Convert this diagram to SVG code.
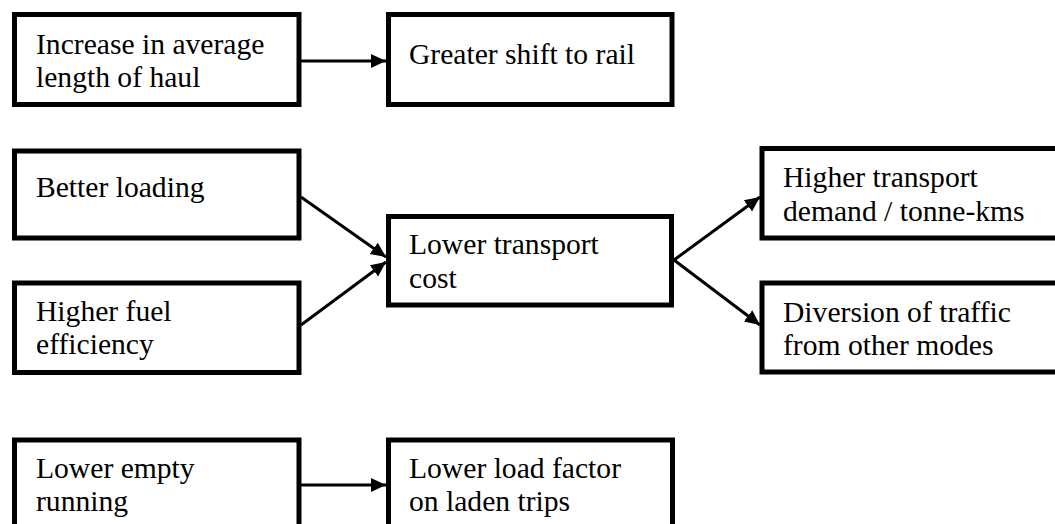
<svg xmlns="http://www.w3.org/2000/svg" width="1055" height="524" viewBox="0 0 1055 524">
<style>
.box{fill:#fff;stroke:#000;stroke-width:5}
.lbl{font-family:'Liberation Serif','Times New Roman',serif;font-size:29.6px;fill:#000}
.con{stroke:#000;stroke-width:3;fill:none}
</style>
<defs>
<marker id="ah" markerUnits="userSpaceOnUse" markerWidth="16" markerHeight="16" refX="15" refY="8" orient="auto">
<path d="M0,1 L15,8 L0,15 z" fill="#000"/>
</marker>
</defs>
<rect width="1055" height="524" fill="#fff"/>
<g id="connectors">
<line class="con" x1="301" y1="61" x2="386" y2="61" marker-end="url(#ah)"/>
<line class="con" x1="301" y1="197" x2="386" y2="257" marker-end="url(#ah)"/>
<line class="con" x1="301" y1="325" x2="386" y2="262" marker-end="url(#ah)"/>
<line class="con" x1="674" y1="260" x2="760" y2="197" marker-end="url(#ah)"/>
<line class="con" x1="674" y1="260" x2="760" y2="325" marker-end="url(#ah)"/>
<line class="con" x1="301" y1="485" x2="386" y2="485" marker-end="url(#ah)"/>
</g>
<g id="n1">
<rect class="box" x="14.5" y="14.5" width="284.5" height="90"/>
<text class="lbl" x="36" y="54">Increase in average</text>
<text class="lbl" x="36" y="87">length of haul</text>
</g>
<g id="n2">
<rect class="box" x="388.5" y="14.5" width="283.5" height="90"/>
<text class="lbl" x="409" y="64">Greater shift to rail</text>
</g>
<g id="n3">
<rect class="box" x="14.5" y="151" width="284.5" height="87"/>
<text class="lbl" x="36" y="197">Better loading</text>
</g>
<g id="n4">
<rect class="box" x="14.5" y="283" width="284.5" height="89.5"/>
<text class="lbl" x="36" y="321">Higher fuel</text>
<text class="lbl" x="36" y="354">efficiency</text>
</g>
<g id="n5">
<rect class="box" x="388.5" y="216.5" width="283" height="88.5"/>
<text class="lbl" x="409" y="254">Lower transport</text>
<text class="lbl" x="409" y="288">cost</text>
</g>
<g id="n6">
<rect class="box" x="762" y="148.5" width="300" height="89.5"/>
<text class="lbl" x="783" y="187">Higher transport</text>
<text class="lbl" x="783" y="221">demand / tonne-kms</text>
</g>
<g id="n7">
<rect class="box" x="762" y="283" width="300" height="89"/>
<text class="lbl" x="783" y="322">Diversion of traffic</text>
<text class="lbl" x="783" y="355">from other modes</text>
</g>
<g id="n8">
<rect class="box" x="14.5" y="440" width="284.5" height="90"/>
<text class="lbl" x="36" y="478">Lower empty</text>
<text class="lbl" x="36" y="511">running</text>
</g>
<g id="n9">
<rect class="box" x="388.5" y="440" width="284" height="90"/>
<text class="lbl" x="409" y="478">Lower load factor</text>
<text class="lbl" x="409" y="511">on laden trips</text>
</g>
</svg>
